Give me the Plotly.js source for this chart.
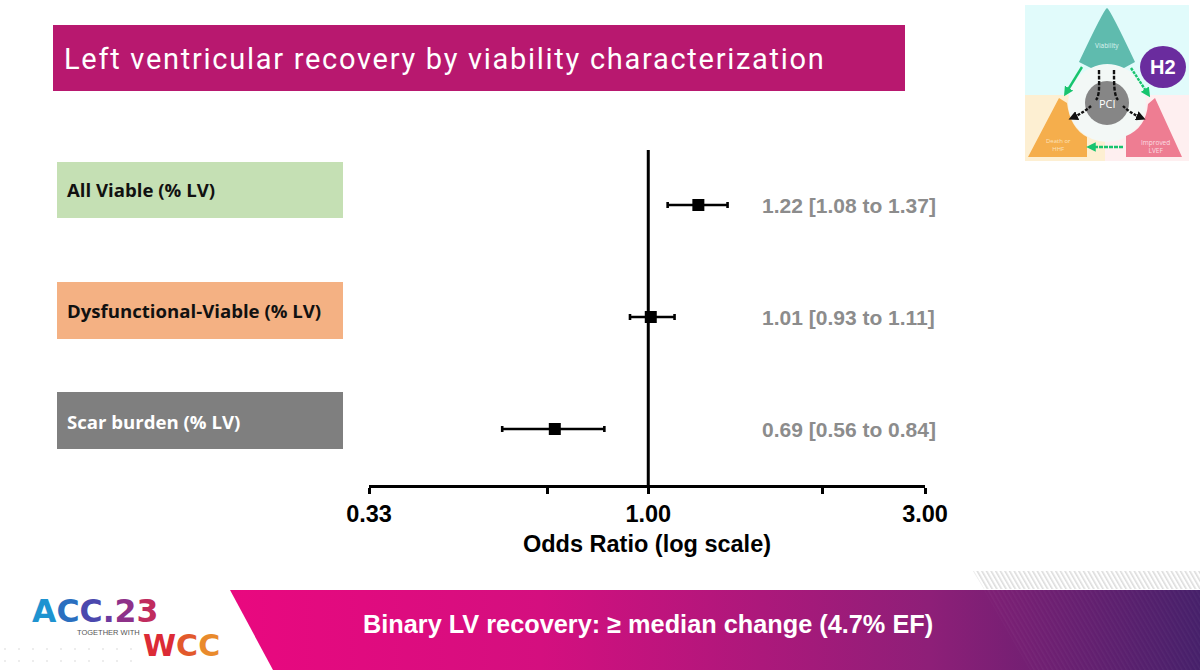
<!DOCTYPE html>
<html><head><meta charset="utf-8">
<script src="https://cdn.plot.ly/plotly-3.0.1.min.js"></script>
<style>html,body{margin:0;padding:0;background:#fff}#c{width:1200px;height:670px}.gtitle{letter-spacing:1.72px}</style>
</head><body><div id="c"></div>
<script>
var categories=['All Viable (% LV)','Dysfunctional-Viable (% LV)','Scar burden (% LV)'];
var oddsRatio=[1.22,1.01,0.69];
var ciLow=[1.08,0.93,0.56];
var ciHigh=[1.37,1.11,0.84];
var estimateLabels=['1.22 [1.08 to 1.37]','1.01 [0.93 to 1.11]','0.69 [0.56 to 0.84]'];
var tickValues=[0.33,0.67,1,2,3];
var tickLabels=['0.33','','1.00','','3.00'];
var boxColors=['#C5E0B4','#F4B183','#7F7F7F'];
var boxTextColors=['#111111','#111111','#ffffff'];
var titleText='Left ventricular recovery by viability characterization';
var footerText='Binary LV recovery: ≥ median change (4.7% EF)';
var xAxisTitle='Odds Ratio (log scale)';

var W=1200,H=670,L=369,R=925,T=150,B=485;
function px(x){return (x-L)/(R-L);}
function py(y){return (B-y)/(B-T);}

var deco='<svg xmlns="http://www.w3.org/2000/svg" width="1200" height="670" viewBox="0 0 1200 670">'+
'<defs>'+
'<linearGradient id="g" x1="0" x2="1" y1="0" y2="0"><stop offset="0" stop-color="#E9087F"/><stop offset="0.32" stop-color="#D40F7F"/><stop offset="0.72" stop-color="#8E1F78"/><stop offset="1" stop-color="#46206A"/></linearGradient>'+
'<pattern id="h" width="4" height="4" patternUnits="userSpaceOnUse" patternTransform="rotate(-30)"><rect width="1.6" height="4" fill="#dcdcdc"/></pattern>'+
'<pattern id="h2" width="4" height="4" patternUnits="userSpaceOnUse" patternTransform="rotate(-30)"><rect width="1.4" height="4" fill="#ffffff" fill-opacity="0.035"/></pattern>'+
'<pattern id="d" width="14" height="12" patternUnits="userSpaceOnUse" x="3" y="644"><circle cx="2" cy="5" r="0.8" fill="#d6d6d6"/></pattern>'+
'<marker id="ag" markerWidth="4" markerHeight="4" refX="2.4" refY="2" orient="auto"><path d="M0 0L4 2L0 4Z" fill="#18C46E"/></marker>'+
'<marker id="ab" markerWidth="4" markerHeight="4" refX="2.4" refY="2" orient="auto"><path d="M0 0L4 2L0 4Z" fill="#111"/></marker>'+
'</defs>'+
'<polygon points="973,571 1200,571 1200,589 984,589" fill="url(#h)"/>'+
'<polygon points="230,590 1200,590 1200,670 273,670" fill="url(#g)"/>'+
'<polygon points="984,590 1200,590 1200,670 1030,670" fill="url(#h2)"/>'+
'<rect x="0" y="644" width="132" height="24" fill="url(#d)"/>'+
'<rect x="1025" y="5" width="164" height="90" fill="#E1FBFB"/>'+
'<rect x="1025" y="95" width="80" height="66" fill="#FDEFD2"/>'+
'<rect x="1105" y="95" width="84" height="66" fill="#FEEFF0"/>'+
'<circle cx="1107" cy="103" r="39" fill="#F3F8F6"/>'+
'<path d="M1107 8 Q1110 9 1135 62 L1124 68 Q1107 60 1091 68 L1079 62 Q1104 9 1107 8Z" fill="#5FBBAE"/>'+
'<path d="M1059 98 L1028 157 L1087 157 L1087 137 Q1070 128 1067 103Z" fill="#F5AE4C"/>'+
'<path d="M1155 98 L1182 157 L1126 157 L1126 136 Q1146 128 1148 104Z" fill="#EE7D92"/>'+
'<circle cx="1107" cy="103" r="22" fill="#868686"/>'+
'<ellipse cx="1163" cy="67" rx="23" ry="21" fill="#6A2C9E"/>'+
'<path d="M1082 67 L1066 93" stroke="#18C46E" stroke-width="2.4" fill="none" marker-end="url(#ag)"/>'+
'<path d="M1131 68 L1148 94" stroke="#18C46E" stroke-width="2.4" stroke-dasharray="3 1" fill="none" marker-end="url(#ag)"/>'+
'<path d="M1123 147 L1090 147" stroke="#18C46E" stroke-width="2.4" stroke-dasharray="4 1" fill="none" marker-end="url(#ag)"/>'+
'<path d="M1099 70 C1099 85 1100 95 1096 100" stroke="#111" stroke-width="2.4" stroke-dasharray="4 1.5" fill="none"/>'+
'<path d="M1114 70 C1114 85 1114 95 1118 100" stroke="#111" stroke-width="2.4" stroke-dasharray="4 1.5" fill="none"/>'+
'<path d="M1091 106 Q1083 113 1072 118" stroke="#111" stroke-width="2.4" stroke-dasharray="3 1.5" fill="none" marker-end="url(#ab)"/>'+
'<path d="M1123 106 Q1130 113 1142 118" stroke="#111" stroke-width="2.4" stroke-dasharray="3 1.5" fill="none" marker-end="url(#ab)"/>'+
'</svg>';

var shapes=[
 {type:'rect',xref:'paper',yref:'paper',x0:px(53),x1:px(905),y0:py(25),y1:py(91),fillcolor:'#B8186F',line:{width:0},layer:'below'},
 {type:'line',xref:'x',yref:'paper',x0:1,x1:1,y0:0,y1:1,line:{color:'#000',width:3},layer:'above'}
];
var boxTop=[162,282,392],boxBottom=[218,339,449];
categories.forEach(function(c,i){
 shapes.push({type:'rect',xref:'paper',yref:'paper',x0:px(57),x1:px(343),y0:py(boxTop[i]),y1:py(boxBottom[i]),fillcolor:boxColors[i],line:{width:0},layer:'below'});
});

var annotations=[];
function note(x,y,text,size,color,family,anchor,bold){
 annotations.push({xref:'paper',yref:'paper',x:px(x),y:py(y),text:bold?'<b>'+text+'</b>':text,showarrow:false,
  xanchor:anchor||'left',yanchor:'middle',font:{size:size,color:color,family:family},borderpad:0,borderwidth:0});
}
var LS='Liberation Sans, Arial, sans-serif',OS='Open Sans, sans-serif',DV='DejaVu Sans, sans-serif';
var labelY=[189,310,421];
categories.forEach(function(c,i){ note(67,labelY[i],c,18.6,boxTextColors[i],OS,'left',true); });
var estY=[205,317,429];
estimateLabels.forEach(function(t,i){ note(762,estY[i],t,21,'#8C8C8C',LS,'left',true); });
note(648,624,footerText,25.3,'#ffffff',LS,'center',true);
note(1107,103,'PCI',11,'#ffffff',OS,'center',false);
note(1163,67,'H2',20,'#ffffff',LS,'center',true);
note(1107,45,'Viability',6.5,'#DDF3EF',OS,'center',false);
note(1058,145,'Death or<br>HHF',6,'#FCE3BE',OS,'center',false);
note(1155,146,'Improved<br>LVEF',6.5,'#FBDDE2',OS,'center',false);
note(95,611,'<span style="color:#1E93D0">A</span><span style="color:#2A6FC0">C</span><span style="color:#4B48AE">C</span><span style="color:#6C3A9E">.</span><span style="color:#8E3189">2</span><span style="color:#C02C5E">3</span>',31.5,'#333',DV,'center',true);
note(108,632,'TOGETHER WITH',7.5,'#555555',LS,'center',false);
note(181,645,'<span style="color:#DC2B36">W</span><span style="color:#E2592C">C</span><span style="color:#E98A2C">C</span>',30,'#333',DV,'center',true);

var data=[{
 type:'scatter',mode:'markers',
 x:oddsRatio,y:categories,
 marker:{symbol:'square',size:12,color:'#000'},
 error_x:{type:'data',symmetric:false,
  array:oddsRatio.map(function(v,i){return ciHigh[i]-v;}),
  arrayminus:oddsRatio.map(function(v,i){return v-ciLow[i];}),
  color:'#000',thickness:2.6,width:3},
 hoverinfo:'x+y',showlegend:false
}];

var layout={
 width:W,height:H,paper_bgcolor:'#fff',plot_bgcolor:'rgba(0,0,0,0)',showlegend:false,
 margin:{l:L,r:W-R,t:T,b:H-B,pad:0},
 title:{text:titleText,x:64/W,xanchor:'left',y:1-59/H,yanchor:'middle',font:{family:'Roboto, sans-serif',size:29,color:'#fff'}},
 xaxis:{type:'log',range:[Math.log10(0.33),Math.log10(3)],tickmode:'array',tickvals:tickValues,ticktext:tickLabels,
  ticks:'outside',ticklen:6,tickwidth:3,tickcolor:'#000',showline:true,linecolor:'#000',linewidth:3,showgrid:false,zeroline:false,
  tickangle:0,tickfont:{family:LS,size:23.5,color:'#000',weight:700},
  title:{text:'<b>'+xAxisTitle+'</b>',standoff:10,font:{family:LS,size:23.5,color:'#000'}}},
 yaxis:{type:'category',categoryorder:'array',categoryarray:categories,range:[2+(B-429)/112,-(205-T)/112],visible:false,showgrid:false,zeroline:false},
 shapes:shapes,annotations:annotations,
 images:[{source:'data:image/svg+xml;charset=utf-8,'+encodeURIComponent(deco),xref:'paper',yref:'paper',x:px(0),y:py(0),sizex:W/(R-L),sizey:H/(B-T),sizing:'stretch',xanchor:'left',yanchor:'top',layer:'below'}]
};
Plotly.newPlot('c',data,layout,{displayModeBar:false,staticPlot:true});
</script></body></html>
